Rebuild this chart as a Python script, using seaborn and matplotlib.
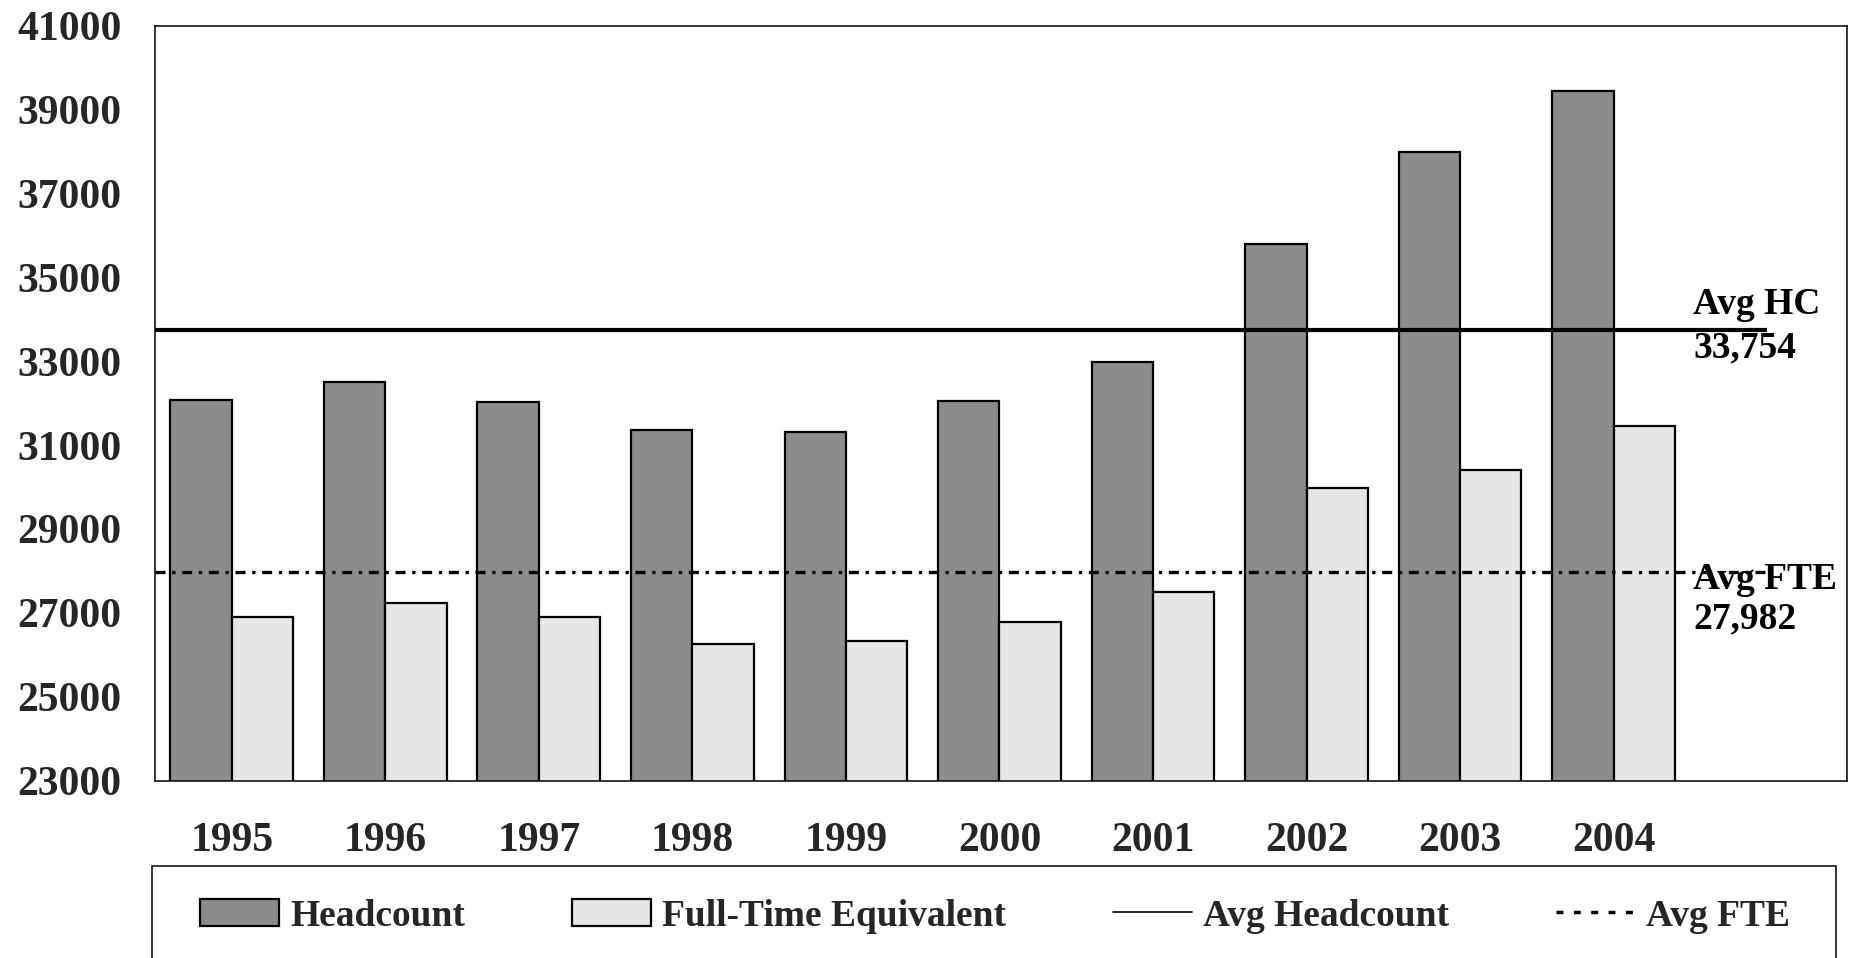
import matplotlib
matplotlib.use("Agg")
import matplotlib.pyplot as plt
from matplotlib.lines import Line2D
from matplotlib.patches import Patch, Rectangle
import seaborn as sns
import pandas as pd

# ---- data ----
years = ["1995", "1996", "1997", "1998", "1999", "2000", "2001", "2002", "2003", "2004"]
headcount = [32070, 32500, 32020, 31350, 31310, 32060, 32990, 35790, 38000, 39440]
fte = [26900, 27230, 26900, 26250, 26330, 26780, 27490, 29980, 30410, 31460]
avg_hc = 33754
avg_fte = 27982
series_names = ["Headcount", "Full-Time Equivalent"]
line_names = ["Avg Headcount", "Avg FTE"]
yticks = list(range(23000, 41001, 2000))

df = pd.DataFrame({
    "year": years * 2,
    "value": headcount + fte,
    "series": [series_names[0]] * len(years) + [series_names[1]] * len(years),
})

sns.set_theme(style="white")
plt.rcParams["font.family"] = ["Liberation Serif", "DejaVu Serif"]
plt.rcParams["font.weight"] = "bold"

fig = plt.figure(figsize=(18.61, 9.58), dpi=100)
ax = fig.add_axes([155 / 1861, 1 - 780.5 / 958, (1847 - 155) / 1861, (780.5 - 26) / 958])

colors = {"Headcount": "#8c8c8c", "Full-Time Equivalent": "#e6e6e6"}
sns.barplot(data=df, x="year", y="value", hue="series", palette=colors,
            width=0.8, gap=0, edgecolor="black", linewidth=1.6,
            saturation=1, legend=False, ax=ax, order=years)

ax.hlines(avg_hc, -0.5, 10.0, colors="black", linewidth=3, zorder=5)
ax.hlines(avg_fte, -0.5, 10.0, colors="black", linewidth=2.4,
          linestyles=(0, (3, 2, 1, 2)), zorder=5)

ax.set_ylim(23000, 41000)
ax.set_xlim(-0.5, 10.52)
ax.set_yticks(yticks)
ax.set_yticklabels([str(t) for t in yticks])
ax.set_xlabel("")
ax.set_ylabel("")
ax.tick_params(axis="y", length=0, pad=24, labelsize=30)
ax.tick_params(axis="x", length=0, pad=30, labelsize=30)
for lab in ax.get_xticklabels() + ax.get_yticklabels():
    lab.set_fontweight("bold")
for s in ax.spines.values():
    s.set_visible(True)
    s.set_color("black")
    s.set_linewidth(1.1)

txt_kw = dict(fontsize=27, fontweight="bold", ha="left", va="center", color="black", zorder=6)
ax.text(9.52, avg_hc + 600, "Avg HC", **txt_kw)
ax.text(9.52, avg_hc - 430, f"{avg_hc:,}", **txt_kw)
ax.text(9.52, avg_fte - 180, "Avg FTE", **txt_kw)
ax.text(9.52, avg_fte - 1130, f"{avg_fte:,}", **txt_kw)

# legend frame
fig.patches.append(Rectangle((152 / 1861, -0.01), (1836 - 152) / 1861, (958 - 866) / 958 + 0.01,
                             transform=fig.transFigure, fill=False, edgecolor="black",
                             linewidth=1.1, zorder=10))

handles = [
    Patch(facecolor=colors[series_names[0]], edgecolor="black", linewidth=1.6),
    Patch(facecolor=colors[series_names[1]], edgecolor="black", linewidth=1.6),
    Line2D([0], [0], color="black", linewidth=1.2),
    Line2D([0], [0], color="black", linewidth=2.5, linestyle=(0, (2, 3))),
]
leg = fig.legend(handles, series_names + line_names, loc="center",
                 bbox_to_anchor=(200 / 1861, 1 - 916 / 958, (1790 - 200) / 1861, 0),
                 mode="expand", ncol=4, borderaxespad=0, frameon=False,
                 prop={"size": 27, "weight": "bold", "family": ["Liberation Serif"]},
                 handlelength=2.1, handletextpad=0.3, borderpad=0)

fig.savefig("out.png", dpi=100)
